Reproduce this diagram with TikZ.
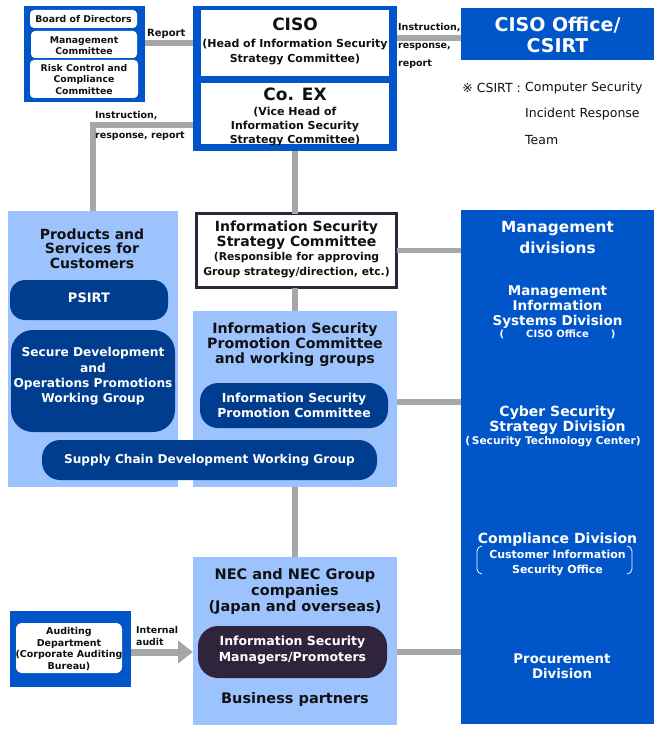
\documentclass[tikz,border=0pt]{standalone}
\usepackage{fontspec}
\setmainfont{DejaVu Sans}
\usetikzlibrary{arrows.meta}
\definecolor{nblue}{HTML}{0055C8}
\definecolor{lblue}{HTML}{9DC3FF}
\definecolor{navy}{HTML}{003D8F}
\definecolor{plum}{HTML}{30243C}
\definecolor{gline}{HTML}{A6A6A6}
\definecolor{ink}{HTML}{111111}
\newcommand\fs[2]{\fontsize{#1}{#2}\selectfont}
\tikzset{
  bx/.style={inner sep=0pt, outer sep=0pt},
  bluebox/.style={bx, fill=nblue},
  lightbox/.style={bx, fill=lblue},
  whitebox/.style={bx, fill=white, rounded corners=4pt},
  plainwhite/.style={bx, fill=white},
  navybox/.style={bx, fill=navy, rounded corners=#1},
  plumbox/.style={bx, fill=plum, rounded corners=#1},
  txt/.style={inner sep=0pt, align=center, text=ink, font=\bfseries},
  wtxt/.style={inner sep=0pt, align=center, text=white, font=\bfseries},
  gl/.style={draw=gline, line width=5.5pt},
}
\begin{document}
\begin{tikzpicture}[x=1pt,y=-1pt]
\useasboundingbox (0,0) rectangle (661,733);
% ---------- Board ----------
\node[bluebox, minimum width=121pt, minimum height=96pt] (board) at (84.5,54) {};
\node[whitebox, minimum width=107pt, minimum height=18pt] (bod) at (83.5,19) {};
\node[whitebox, minimum width=106pt, minimum height=27pt] (mc) at (84,44.5) {};
\node[whitebox, minimum width=108pt, minimum height=38pt] (rc) at (84,79) {};
\node[txt, font=\bfseries\fs{9.3}{11.5}] (bodt) at (bod) {Board of Directors};
\node[txt, font=\bfseries\fs{9.3}{11.5}] (mct) at (84,45.5) {Management\\Committee};
\node[txt, font=\bfseries\fs{9.3}{11.5}] (rct) at (84,79.5) {Risk Control and\\Compliance\\Committee};
% ---------- CISO ----------
\node[bluebox, minimum width=204pt, minimum height=145pt] (cisoout) at (295,78.5) {};
\node[plainwhite, minimum width=188pt, minimum height=66pt] (ciso) at (295,43) {};
\node[plainwhite, minimum width=188pt, minimum height=61pt] (coex) at (295,113.5) {};
\node[txt, font=\bfseries\fs{17}{20}] (cisot) at (295,24) {CISO};
\node[txt, font=\bfseries\fs{11}{15}] (cisos) at (295,52.5) {(Head of Information Security\\Strategy Committee)};
\node[txt, font=\bfseries\fs{17}{20}] (coext) at (295,94) {Co. EX};
\node[txt, font=\bfseries\fs{11}{14}] (coexs) at (295,127) {(Vice Head of\\Information Security\\Strategy Committee)};
% ---------- CISO Office ----------
\node[bluebox, minimum width=193pt, minimum height=52pt] (office) at (557.5,34) {};
\node[wtxt, font=\bfseries\fs{19}{21}] (officet) at (557.5,35) {CISO Office/\\CSIRT};
\node[inner sep=0pt, anchor=east, text=ink, font=\fs{12.5}{15}] (note1) at (521,88) {※ CSIRT :};
\node[inner sep=0pt, anchor=west, text=ink, font=\fs{12.5}{15}] (note2) at (525,88) {Computer Security};
\node[inner sep=0pt, anchor=west, text=ink, font=\fs{12.5}{15}] (note3) at (525,114) {Incident Response};
\node[inner sep=0pt, anchor=west, text=ink, font=\fs{12.5}{15}] (note4) at (525,140) {Team};
% ---------- Products ----------
\node[lightbox, minimum width=170pt, minimum height=276pt] (prod) at (93,349) {};
\node[txt, font=\bfseries\fs{14}{14.5}] (prodt) at (92,248.5) {Products and\\Services for\\Customers};
\node[navybox=15pt, minimum width=158pt, minimum height=40pt] (psirt) at (89,300) {};
\node[wtxt, font=\bfseries\fs{13}{15}] (psirtt) at (89,298) {PSIRT};
\node[navybox=22pt, minimum width=164pt, minimum height=102pt] (secdev) at (93,381) {};
\node[wtxt, font=\bfseries\fs{12.2}{15.3}] (secdevt) at (93,376.5) {Secure Development\\and\\Operations Promotions\\Working Group};
% ---------- ISSC ----------
\node[bx, fill=white, draw=plum, line width=3pt, minimum width=200pt, minimum height=74pt] (issc) at (296.5,250.5) {};
\node[txt, font=\bfseries\fs{14}{15}] (issct) at (296.5,235) {Information Security\\Strategy Committee};
\node[txt, font=\bfseries\fs{10.8}{15}] (isscs) at (296.5,265.5) {(Responsible for approving\\Group strategy/direction, etc.)};
% ---------- Promotion ----------
\node[lightbox, minimum width=204pt, minimum height=176pt] (promo) at (295,399) {};
\node[txt, font=\bfseries\fs{14.2}{15}] (promot) at (295,345) {Information Security\\Promotion Committee\\and working groups};
\node[navybox=18pt, minimum width=188pt, minimum height=45pt] (ispc) at (294,405.5) {};
\node[wtxt, font=\bfseries\fs{12.4}{15}] (ispct) at (294,405) {Information Security\\Promotion Committee};
\node[navybox=18pt, minimum width=335pt, minimum height=40pt] (supply) at (209.5,460) {};
\node[wtxt, font=\bfseries\fs{12.1}{15}] (supplyt) at (supply) {Supply Chain Development Working Group};
% ---------- Management divisions ----------
\node[bluebox, minimum width=193pt, minimum height=514pt] (mgmt) at (557.5,467) {};
\node[wtxt, font=\bfseries\fs{15.3}{21}] (mgmtt) at (557.5,238) {Management\\divisions};
\node[wtxt, font=\bfseries\fs{13.5}{15}] (mis) at (557.5,307) {Management\\Information\\Systems Division};
\node[wtxt, font=\bfseries\fs{10}{12}] (miss) at (557.5,334) {(\hspace{2.2em}CISO Office\hspace{2.2em})};
\node[wtxt, font=\bfseries\fs{14}{15}] (cyber) at (557.5,420.5) {Cyber Security\\Strategy Division};
\node[wtxt, font=\bfseries\fs{10.6}{12}] (cybers) at (553,442) {(\,Security Technology Center)};
\node[wtxt, font=\bfseries\fs{14}{15}] (comp) at (557.5,540) {Compliance Division};
\node[wtxt, font=\bfseries\fs{11}{15}] (comps) at (557.5,563.5) {Customer Information\\Security Office};
\draw[white, line width=0.8pt] (482,546) to[out=180,in=90] (477,551) -- (477,569) to[out=-90,in=180] (482,574);
\draw[white, line width=0.8pt] (627,546) to[out=0,in=90] (632,551) -- (632,569) to[out=-90,in=0] (627,574);
\node[wtxt, font=\bfseries\fs{13.3}{15}] (proc) at (562,666.5) {Procurement\\Division};
% ---------- NEC ----------
\node[lightbox, minimum width=204pt, minimum height=168pt] (nec) at (295,641) {};
\node[txt, font=\bfseries\fs{14.5}{16}] (nect) at (295,591) {NEC and NEC Group\\companies\\(Japan and overseas)};
\node[plumbox=20pt, minimum width=189pt, minimum height=52pt] (ismp) at (292.5,652) {};
\node[wtxt, font=\bfseries\fs{12.5}{16}] (ismpt) at (292.5,650.5) {Information Security\\Managers/Promoters};
\node[txt, font=\bfseries\fs{14.5}{16}] (bp) at (295,699.5) {Business partners};
% ---------- Auditing ----------
\node[bluebox, minimum width=121pt, minimum height=76pt] (audit) at (70.5,649) {};
\node[bx, fill=white, rounded corners=6pt, minimum width=106pt, minimum height=50pt] (auditin) at (69,648) {};
\node[txt, font=\bfseries\fs{9.5}{11.8}] (auditt) at (69,649) {Auditing\\Department\\(Corporate Auditing\\Bureau)};
% ---------- connectors ----------
\draw[gl] (board.east |- ciso.west) -- (cisoout.west |- ciso.west);
\node[txt, font=\bfseries\fs{10}{12}, anchor=west] (reportl) at (147,33.5) {Report};
\draw[gl] ([yshift=-4pt]cisoout.east |- office.west) -- ([yshift=-4pt]office.west);
\node[txt, font=\bfseries\fs{9.5}{18}, anchor=north west, align=left] (instr1) at (398,23) {Instruction,\\response,\\report};
\coordinate (elbow) at (93,125);
\draw[gl] (cisoout.west |- elbow) -- (elbow) -- (elbow |- prod.north);
\node[txt, font=\bfseries\fs{9.5}{20}, anchor=north west, align=left] (instr2) at (95,111) {Instruction,\\response, report};
\draw[gl] (cisoout.south) -- (cisoout.south |- issc.north);
\draw[gl] (issc.south -| cisoout.south) -- (promo.north -| cisoout.south);
\draw[gl] (promo.south) -- (nec.north);
\draw[gl] (issc.east) -- (issc.east -| mgmt.west);
\coordinate (pm) at (397,402);
\draw[gl] (promo.east |- pm) -- (mgmt.west |- pm);
\draw[gl] (nec.east |- ismp.east) -- (mgmt.west |- ismp.east);
\draw[draw=gline, line width=7pt, -{Triangle[width=22pt,length=15pt]}] (audit.east |- ismp.west) -- (nec.west |- ismp.west);
\node[txt, font=\bfseries\fs{9.4}{12}, anchor=west, align=left] (ia) at (136,636) {Internal\\audit};
\end{tikzpicture}
\end{document}
